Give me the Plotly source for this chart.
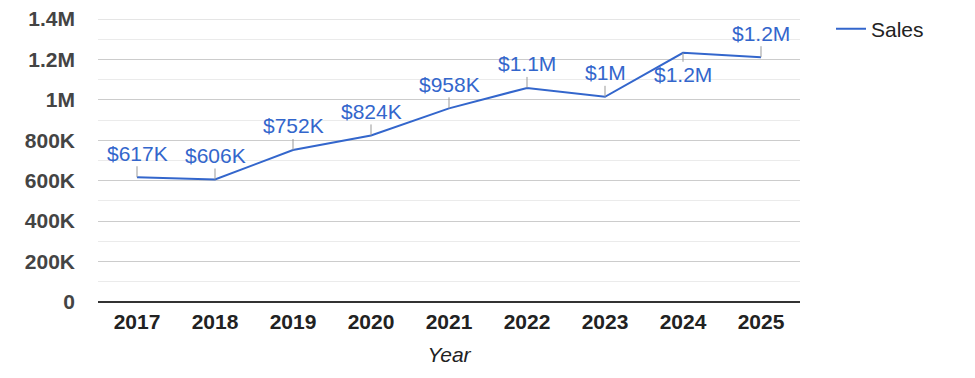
import plotly.graph_objects as go

years = ["2017", "2018", "2019", "2020", "2021", "2022", "2023", "2024", "2025"]
sales = [617000, 606000, 752000, 824000, 958000, 1059000, 1015000, 1233000, 1211000]
labels = ["$617K", "$606K", "$752K", "$824K", "$958K", "$1.1M", "$1M", "$1.2M", "$1.2M"]
label_below = [False, False, False, False, False, False, False, True, False]
y_tickvals = [0, 200000, 400000, 600000, 800000, 1000000, 1200000, 1400000]
y_ticktext = ["0", "200K", "400K", "600K", "800K", "1M", "1.2M", "1.4M"]

BLUE = "#3366cc"
FONT = "Liberation Sans, Arial, sans-serif"
OFF = 8  # page body margin offset

fig = go.Figure()
fig.add_trace(go.Scatter(
    x=years, y=sales, mode="lines", name="Sales",
    line=dict(color=BLUE, width=2), hoverinfo="skip",
))

# top gridline (plotly drops gridlines sitting exactly on the plot edge)
fig.add_hline(y=y_tickvals[-1], line=dict(color="#cccccc", width=1), layer="below")

for i, (v, lab, below) in enumerate(zip(sales, labels, label_below)):
    fig.add_annotation(
        x=i, y=v, xref="x", yref="y", text=lab, showarrow=True, arrowhead=0,
        arrowwidth=1, arrowcolor="#999999", ax=0, ay=(22 if below else -24),
        font=dict(family=FONT, size=21, color=BLUE),
    )

fig.update_layout(
    width=975, height=378,
    margin=dict(l=98 - OFF, r=175 + OFF, t=19 - OFF, b=76 + OFF),
    paper_bgcolor="white", plot_bgcolor="white",
    font=dict(family=FONT, color="#222222"),
    showlegend=True,
    legend=dict(xref="container", yref="container",
                x=(872 - 41 - OFF) / 975, y=1 - (29 - OFF) / 378,
                xanchor="left", yanchor="middle",
                font=dict(size=21, color="#222222"), bgcolor="rgba(0,0,0,0)"),
    xaxis=dict(
        type="category", range=[-0.5, 8.5], showgrid=False, zeroline=False,
        showline=False, ticks="", ticklabelstandoff=5,
        tickfont=dict(family=FONT, size=21, color="#222222", weight="bold"),
        title=dict(text="<i>Year</i>", font=dict(family=FONT, size=21, color="#222222"), standoff=15),
    ),
    yaxis=dict(
        range=[0, 1400000], tickvals=y_tickvals, ticktext=y_ticktext,
        showgrid=True, gridcolor="#cccccc", gridwidth=1,
        zeroline=True, zerolinecolor="#333333", zerolinewidth=1.5,
        showline=False, ticks="", ticklabelstandoff=22, ticklabeloverflow="allow",
        automargin=False,
        tickfont=dict(family=FONT, size=21, color="#444444", weight="bold"),
        minor=dict(dtick=100000, tick0=0, showgrid=True, gridcolor="#ebebeb", gridwidth=1),
    ),
)

fig.write_html("out.html")
